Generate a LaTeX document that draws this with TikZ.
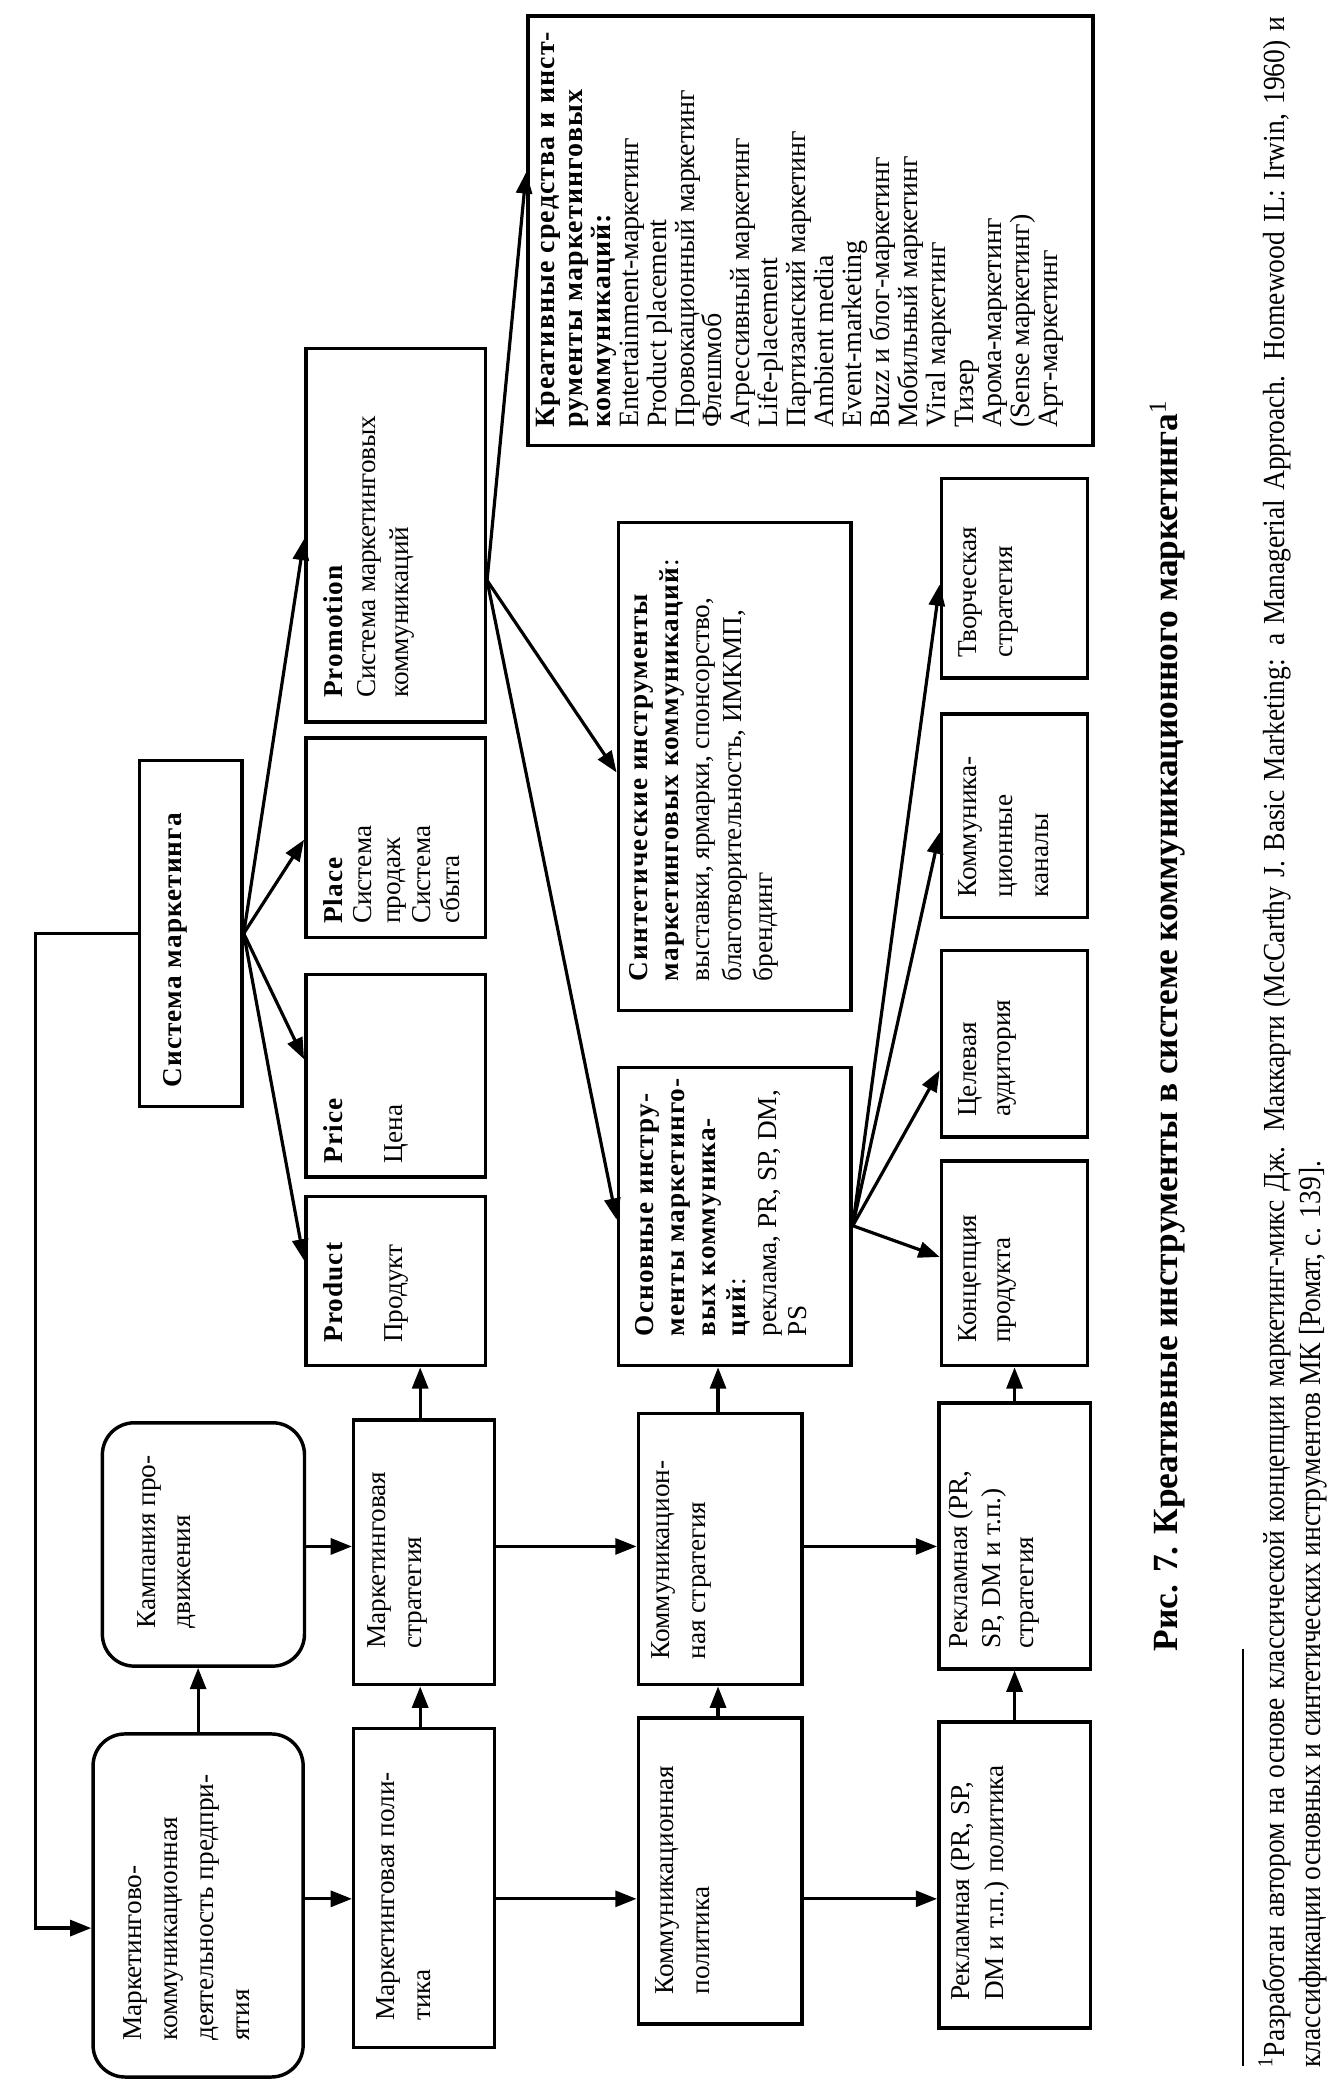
\documentclass[tikz,border=0pt]{standalone}
\usepackage{fontspec}
\setmainfont{Liberation Serif}[BoldFeatures={LetterSpace=4}]
\newfontfamily\capfont{Liberation Serif}
\newfontfamily\fnfont{Liberation Serif}[FakeStretch=0.9]
\usetikzlibrary{arrows.meta,calc}
\newcommand{\fbx}[1]{\fontsize{20.5}{#1}\selectfont}
\begin{document}
\begin{tikzpicture}[x=1pt,y=1pt,
  bx/.style={draw,line width=2.6pt,inner sep=0pt},
  rbx/.style={bx,rounded corners=24pt},
  tx/.style={inner sep=0pt,anchor=north west,align=left},
  arr/.style={line width=2.4pt,-{Triangle[length=16pt,width=12pt]}}]
\begin{scope}[rotate=90,transform shape]
\path[use as bounding box] (0,0) rectangle (1568,1004);
% boxes
\node[rbx,minimum width=258pt,minimum height=158pt] (A) at (135,855) {};
\node[rbx,minimum width=183pt,minimum height=152pt] (B) at (406.5,851) {};
\node[bx,minimum width=240pt,minimum height=106pt] (C) at (148,685) {};
\node[bx,minimum width=199pt,minimum height=106pt] (D) at (400.5,685) {};
\node[bx,minimum width=230pt,minimum height=123pt] (E) at (161,462.5) {};
\node[bx,minimum width=204pt,minimum height=123pt] (F) at (403,462.5) {};
\node[bx,minimum width=230pt,minimum height=114pt] (G) at (158,241) {};
\node[bx,minimum width=200pt,minimum height=114pt] (H) at (413,241) {};
\node[bx,minimum width=127pt,minimum height=135pt] (prod) at (604.5,706.5) {};
\node[bx,minimum width=152pt,minimum height=135pt] (price) at (759,706.5) {};
\node[bx,minimum width=150pt,minimum height=135pt] (place) at (938,706.5) {};
\node[bx,minimum width=281pt,minimum height=135pt] (promo) at (1165.5,706.5) {};
\node[bx,minimum width=260pt,minimum height=77pt] (sys) at (866,860.5) {};
\node[bx,minimum width=224pt,minimum height=175pt] (osn) at (653,451.5) {};
\node[bx,minimum width=367pt,minimum height=175pt] (syn) at (991.5,451.5) {};
\node[bx,minimum width=323pt,minimum height=425pt] (kre) at (1394.5,394.5) {};
\node[bx,minimum width=154pt,minimum height=110pt] (konc) at (618,241) {};
\node[bx,minimum width=140pt,minimum height=110pt] (cel) at (783,241) {};
\node[bx,minimum width=153pt,minimum height=110pt] (kan) at (954.5,241) {};
\node[bx,minimum width=150pt,minimum height=110pt] (tvo) at (1133,241) {};
% texts
\node[tx,font=\fbx{27}] (At) at (33,911) {Маркетингово-\\коммуникационная\\деятельность предпри-\\ятия};
\node[tx,font=\fbx{27}] (Bt) at (343,901) {Кампания про-\\движения};
\node[tx,font=\fbx{27}] (Ct) at (48,721) {Маркетинговая поли-\\тика};
\node[tx,font=\fbx{27}] (Dt) at (328,728) {Маркетинговая\\стратегия};
\node[tx,font=\fbx{27}] (Et) at (68,511) {Коммуникационная\\политика};
\node[tx,font=\fbx{27}] (Ft) at (320,514) {Коммуникацион-\\ная стратегия};
\node[tx,font=\fbx{25}] (Gt) at (63,289) {Рекламная (PR, SP,\\DM и т.п.) политика};
\node[tx,font=\fbx{25}] (Ht) at (328,291) {Рекламная (PR,\\SP, DM и т.п.)\\стратегия};
\node[tx,font=\fbx{25}] (prodt) at (558,761) {\textbf{Product}\\[20pt]Продукт};
\node[tx,font=\fbx{25}] (pricet) at (693,761) {\textbf{Price}\\[20pt]Цена};
\node[tx,font=\fbx{22}] (placet) at (873,761) {\textbf{Place}\\Система\\продаж\\Система\\сбыта};
\node[tx,font=\fbx{25}] (promot) at (1043,761) {\textbf{Promotion}\\Система маркетинговых\\коммуникаций};
\node[tx,font=\fbx{25}] (syst) at (750,881) {\textbf{Система маркетинга}};
\node[tx,font=\fbx{23}] (osnt) at (563,526) {\textbf{Основные инстру-}\\\textbf{менты маркетинго-}\\\textbf{вых коммуника-}\\\textbf{ций}:\\реклама, PR, SP, DM,\\PS};
\node[tx,font=\fbx{23.5}] (synt) at (830,531) {\textbf{Синтетические инструменты}\\\textbf{маркетинговых коммуникаций}:\\выставки, ярмарки, спонсорство,\\благотворительность, ИМКМП,\\брендинг};
\node[tx,font=\fontsize{21}{21}\selectfont] (kret) at (1246,601) {\textbf{Креативные средства и инст-}\\\textbf{рументы маркетинговых}\\\textbf{коммуникаций:}\\Entertainment-маркетинг\\Product placement\\Провокационный маркетинг\\Флешмоб\\Агрессивный маркетинг\\Life-placement\\Партизанский маркетинг\\Ambient media\\Event-marketing\\Buzz и блог-маркетинг\\Мобильный маркетинг\\Viral маркетинг\\Тизер\\Арома-маркетинг\\(Sense маркетинг)\\Арт-маркетинг};
\node[tx,font=\fbx{25}] (konct) at (558,283) {Концепция\\продукта};
\node[tx,font=\fbx{25}] (celt) at (728,283) {Целевая\\аудитория};
\node[tx,font=\fbx{27}] (kant) at (893,283) {Коммуника-\\ционные\\каналы};
\node[tx,font=\fbx{27}] (tvot) at (1073,283) {Творческая\\стратегия};
% helper coordinates (landscape frame)
\coordinate (r1) at (140,0);
\coordinate (r2) at (405,0);
\coordinate (c1) at (0,688);
\coordinate (c2) at (0,464);
\coordinate (r3) at (118,977);
% connectors
\draw[arr] (r1 |- A.south) -- (r1 |- C.north);
\draw[arr] (r1 |- C.south) -- (r1 |- E.north);
\draw[arr] (r1 |- E.south) -- (r1 |- G.north);
\draw[arr] (r2 |- B.south) -- (r2 |- D.north);
\draw[arr] (r2 |- D.south) -- (r2 |- F.north);
\draw[arr] (r2 |- F.south) -- (r2 |- H.north);
\draw[arr] (A.east) -- (B.west |- A.east);
\draw[arr] (C.east |- c1) -- (D.west |- c1);
\draw[arr] (D.east |- c1) -- (prod.west |- c1);
\draw[arr] (E.east |- c2) -- (F.west |- c2);
\draw[arr] (F.east |- c2) -- (osn.west |- c2);
\draw[arr] (G.east) -- (H.west |- G.east);
\draw[arr] (H.east) -- (konc.west |- H.east);
\draw[arr] (sys.north) |- (r3) -- (r3 |- A.north);
% fan from system
\draw[arr] (sys.south) -- ($(prod.north west)!0.62!(prod.north east)$);
\draw[arr] (sys.south) -- ($(price.north west)!0.58!(price.north east)$);
\draw[arr] (sys.south) -- ($(place.north west)!0.49!(place.north east)$);
\draw[arr] (sys.south) -- ($(promo.north west)!0.49!(promo.north east)$);
% fan from promotion
\coordinate (ps) at ($(promo.south west)!0.38!(promo.south east)$);
\draw[arr] (ps) -- ($(kre.north west)!0.635!(kre.north east)$);
\draw[arr] (ps) -- ($(syn.north west)!0.488!(syn.north east)$);
\draw[arr] (ps) -- ($(osn.north west)!0.49!(osn.north east)$);
% fan from basic tools
\coordinate (os) at ($(osn.south west)!0.47!(osn.south east)$);
\draw[arr] (os) -- ($(konc.north west)!0.53!(konc.north east)$);
\draw[arr] (os) -- ($(cel.north west)!0.36!(cel.north east)$);
\draw[arr] (os) -- ($(kan.north west)!0.42!(kan.north east)$);
\draw[arr] (os) -- ($(tvo.north west)!0.47!(tvo.north east)$);
% caption and footnote
\node[anchor=west,inner sep=0pt,font=\capfont\fontsize{26.6}{30}\selectfont\bfseries] (cap) at (326,126) {Рис. 7. Креативные инструменты в системе коммуникационного маркетинга\textsuperscript{\mdseries 1}};
\draw[line width=1.8pt] (14,69) -- (328,69);
\node[anchor=north west,inner sep=0pt,text width=1542pt,align=justify,font=\fnfont\fontsize{23}{27}\selectfont] (fn) at (13,58) {\textsuperscript{1}Разработан автором на основе классической концепции маркетинг-микс Дж. Маккарти (McCarthy J. Basic Marketing: a Managerial Approach. Homewood IL: Irwin, 1960) и\linebreak классификации основных и синтетических инструментов МК [Ромат, с. 139].};
\end{scope}
\end{tikzpicture}
\end{document}
